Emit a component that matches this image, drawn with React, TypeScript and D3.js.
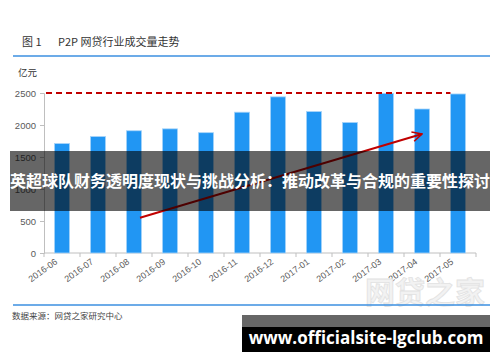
import React, { useEffect, useRef } from "react";
import * as d3 from "d3";

const months = [
  "2016-06", "2016-07", "2016-08", "2016-09", "2016-10", "2016-11",
  "2016-12", "2017-01", "2017-02", "2017-03", "2017-04", "2017-05",
];
const volume = [1710, 1820, 1910, 1940, 1880, 2200, 2440, 2210, 2040, 2495, 2250, 2485];
const yTicks = [0, 500, 1000, 1500, 2000, 2500];
const targetLine = 2500;
// arrow annotation: [month, value]
const arrowFrom: [string, number] = ["2016-08", 550];
const arrowTo: [string, number] = ["2017-04", 1860];

const W = 500;
const H = 362;
const CJK = "'Noto Sans CJK SC', 'Noto Sans', sans-serif";

const App: React.FC = () => {
  const svgRef = useRef<SVGSVGElement>(null);

  useEffect(() => {
    const svg = d3.select(svgRef.current);
    svg.selectAll("*").remove();

    const x = d3.scaleBand().domain(months).range([44, 476]).paddingInner(0.58).paddingOuter(0.29);
    const y = d3.scaleLinear().domain([0, 2500]).range([253, 93]);
    const step = x.step();

    const defs = svg.append("defs");
    defs
      .append("marker")
      .attr("id", "arr")
      .attr("viewBox", "0 0 10 10")
      .attr("refX", 9)
      .attr("refY", 5)
      .attr("markerWidth", 6)
      .attr("markerHeight", 6)
      .attr("markerUnits", "strokeWidth")
      .attr("orient", "auto")
      .append("path")
      .attr("d", "M1,1 L9,5 L1,9")
      .attr("fill", "none")
      .attr("stroke", "#c00000")
      .attr("stroke-width", 1.3);

    // title
    svg.append("text").attr("x", 22).attr("y", 46).attr("font-size", 11).attr("fill", "#333")
      .attr("font-family", CJK).attr("xml:space", "preserve").text("图 1");
    svg.append("text").attr("x", 58).attr("y", 46).attr("font-size", 11).attr("fill", "#333")
      .attr("font-family", CJK).text("P2P 网贷行业成交量走势");
    svg.append("line").attr("x1", 13).attr("x2", 490).attr("y1", 56).attr("y2", 56)
      .attr("stroke", "#3b8fe0").attr("stroke-width", 1.5);

    svg.append("text").attr("x", 18).attr("y", 76).attr("font-size", 9.5).attr("fill", "#333")
      .attr("font-family", CJK).text("亿元");

    // y axis
    const gy = svg.append("g").attr("transform", "translate(44,0)")
      .call(d3.axisLeft(y).tickValues(yTicks).tickSize(4).tickPadding(4).tickFormat((d) => String(d)));
    gy.select(".domain").attr("stroke", "#bfbfbf");
    gy.selectAll(".tick line").attr("stroke", "#bfbfbf");
    gy.selectAll("text").attr("fill", "#595959").attr("font-size", 9.5)
      .attr("font-family", "'Liberation Sans', Arial, sans-serif");

    // x axis
    const gx = svg.append("g").attr("transform", "translate(0,253)");
    gx.append("line").attr("x1", 44).attr("x2", 476).attr("stroke", "#bfbfbf");
    const edges = months.map((m) => (x(m) as number) - (step - x.bandwidth()) / 2).concat([476]);
    gx.selectAll("line.t").data(edges).join("line").attr("class", "t")
      .attr("x1", (d) => d).attr("x2", (d) => d).attr("y1", 0).attr("y2", 4).attr("stroke", "#bfbfbf");
    gx.selectAll("text").data(months).join("text")
      .attr("transform", (d) => `translate(${(x(d) as number) + x.bandwidth() / 2 - 4},10) rotate(-36)`)
      .attr("text-anchor", "end")
      .attr("font-size", 9)
      .attr("fill", "#595959")
      .attr("font-family", "'Liberation Sans', Arial, sans-serif")
      .text((d) => d);

    // bars
    svg.selectAll("rect.bar").data(volume).join("rect").attr("class", "bar")
      .attr("x", (_, i) => x(months[i]) as number)
      .attr("width", x.bandwidth())
      .attr("y", (d) => y(d))
      .attr("height", (d) => y(0) - y(d))
      .attr("fill", "#2196f3")
      .attr("stroke", "#a8d4f9")
      .attr("stroke-width", 0.8);

    // target dashed line
    const lastStart = x(months[months.length - 1]) as number;
    svg.append("line").attr("x1", 46).attr("x2", lastStart).attr("y1", y(targetLine)).attr("y2", y(targetLine))
      .attr("stroke", "#c00000").attr("stroke-width", 2).attr("stroke-dasharray", "6,4");

    // arrow
    svg.append("line")
      .attr("x1", (x(arrowFrom[0]) as number) + x.bandwidth() / 2 + 6)
      .attr("y1", y(arrowFrom[1]))
      .attr("x2", (x(arrowTo[0]) as number) + x.bandwidth() / 2)
      .attr("y2", y(arrowTo[1]))
      .attr("stroke", "#c00000").attr("stroke-width", 2).attr("marker-end", "url(#arr)");

    // overlay banner
    svg.append("rect").attr("x", 10).attr("y", 151).attr("width", 480).attr("height", 60)
      .attr("fill", "rgba(0,0,0,0.6)");
    svg.append("text").attr("x", 250).attr("y", 187).attr("text-anchor", "middle")
      .attr("font-size", 16).attr("font-weight", "bold").attr("fill", "#fff").attr("font-family", CJK)
      .text("英超球队财务透明度现状与挑战分析：推动改革与合规的重要性探讨");

    // watermark
    svg.append("text").attr("x", 425).attr("y", 303).attr("text-anchor", "middle")
      .attr("font-size", 30).attr("font-weight", "bold").attr("fill", "#f2f2f2").attr("stroke", "#e2e2e2")
      .attr("stroke-width", 0.8).attr("font-family", CJK).text("网贷之家");

    // bottom line + source
    svg.append("line").attr("x1", 13).attr("x2", 490).attr("y1", 305).attr("y2", 305)
      .attr("stroke", "#3b8fe0").attr("stroke-width", 1.5);
    svg.append("text").attr("x", 12).attr("y", 319).attr("font-size", 8.5).attr("fill", "#444")
      .attr("font-family", CJK).text("数据来源：网贷之家研究中心");

    // url box
    svg.append("rect").attr("x", 242).attr("y", 315).attr("width", 248).attr("height", 12).attr("fill", "#666");
    svg.append("rect").attr("x", 242).attr("y", 327).attr("width", 248).attr("height", 25).attr("fill", "#000");
    svg.append("text").attr("x", 366).attr("y", 344).attr("text-anchor", "middle")
      .attr("font-size", 17).attr("font-weight", "bold").attr("fill", "#fff")
      .attr("font-family", "'Open Sans', 'DejaVu Sans', sans-serif")
      .text("www.officialsite-lgclub.com");
  }, []);

  return (
    <div style={{ position: "absolute", left: 0, top: 0, width: W, height: H, background: "#fff" }}>
      <svg ref={svgRef} width={W} height={H} />
    </div>
  );
};

export default App;
